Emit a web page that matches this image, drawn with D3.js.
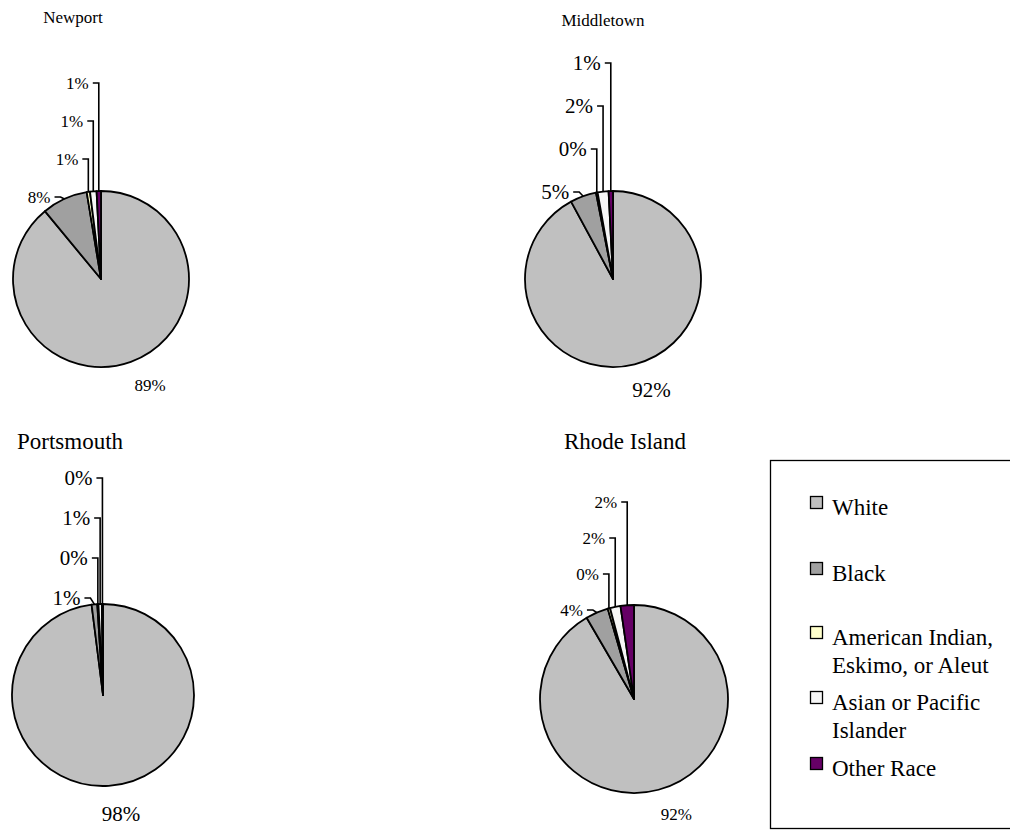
<!DOCTYPE html>
<html>
<head>
<meta charset="utf-8">
<script src="https://cdn.jsdelivr.net/npm/d3@7"></script>
<style>
  body { margin: 0; background: #fff; }
  svg { display: block; }
</style>
</head>
<body>
<svg id="chart" width="1010" height="832" font-family="'Liberation Serif', 'Times New Roman', 'DejaVu Serif', serif"></svg>
<script>
// Racial composition (percent of population), slices drawn clockwise from 12 o'clock
const categories = ["White", "Black", "American Indian, Eskimo, or Aleut", "Asian or Pacific Islander", "Other Race"];
const legendLines = [["White"], ["Black"], ["American Indian,", "Eskimo, or Aleut"], ["Asian or Pacific", "Islander"], ["Other Race"]];
const places = ["Newport", "Middletown", "Portsmouth", "Rhode Island"];
const newport     = [89.0, 8.4, 0.6, 1.2, 0.8];
const middletown  = [92.1, 4.8, 0.3, 2.0, 0.8];
const portsmouth  = [98.0, 1.0, 0.2, 0.6, 0.2];
const rhodeIsland = [91.6, 3.9, 0.4, 1.8, 2.3];
const seriesValues = [newport, middletown, portsmouth, rhodeIsland];
const colors = ["#c0c0c0", "#a0a0a0", "#ffffcc", "#f6f6f6", "#660066"];

// Placement of each pie panel
const panels = [
  { cx: 101, cy: 279, r: 88, tx: 73,  ty: 23,  tSize: 17, lSize: 17, base: 197, step: 38 },
  { cx: 613, cy: 279, r: 88, tx: 603, ty: 26,  tSize: 17, lSize: 21, base: 192, step: 43 },
  { cx: 103, cy: 695, r: 91, tx: 70,  ty: 449, tSize: 23, lSize: 21, base: 598, step: 40 },
  { cx: 634, cy: 699, r: 94, tx: 625, ty: 449, tSize: 23, lSize: 17, base: 610, step: 36 }
];

const svg = d3.select("#chart");
const fmt = v => d3.format(".0f")(v) + "%";
const pie = d3.pie().sort(null).value(d => d);
const color = d3.scaleOrdinal().domain(categories).range(colors);

panels.forEach((p, pi) => {
  const vals = seriesValues[pi];
  const arcs = pie(vals);
  const arc = d3.arc().innerRadius(0).outerRadius(p.r);
  const g = svg.append("g");

  g.append("text")
    .attr("x", p.tx).attr("y", p.ty)
    .attr("text-anchor", "middle")
    .attr("font-size", p.tSize)
    .text(places[pi]);

  const pg = g.append("g").attr("transform", `translate(${p.cx},${p.cy})`);
  pg.selectAll("path")
    .data(arcs)
    .join("path")
    .attr("d", arc)
    .attr("fill", (d, i) => color(categories[i]))
    .attr("stroke", "#000")
    .attr("stroke-width", 1.8)
    .attr("stroke-linejoin", "round");

  arcs.forEach((a, i) => {
    const mid = (a.startAngle + a.endAngle) / 2;
    const px = p.cx + p.r * Math.sin(mid);
    const py = p.cy - p.r * Math.cos(mid);
    if (i === 0) {
      // large slice: label below-right of the pie
      const ang = mid - 5 * Math.PI / 180;
      const d = p.r + 29;
      g.append("text")
        .attr("x", p.cx + d * Math.sin(ang))
        .attr("y", p.cy - d * Math.cos(ang))
        .attr("dy", "0.35em")
        .attr("text-anchor", "middle")
        .attr("font-size", p.lSize)
        .text(fmt(vals[i]));
      return;
    }
    // small slices: stacked labels with leader lines
    const ly = p.base - (i - 1) * p.step;
    const path = i === 1
      ? `M${px - 10},${ly}H${px - 4}L${px},${py}`
      : `M${px - 6},${ly}H${px}V${py}`;
    g.append("path")
      .attr("d", path)
      .attr("fill", "none")
      .attr("stroke", "#000")
      .attr("stroke-width", 1.6);
    g.append("text")
      .attr("x", i === 1 ? px - 14 : px - 10)
      .attr("y", ly)
      .attr("dy", "0.35em")
      .attr("text-anchor", "end")
      .attr("font-size", p.lSize)
      .text(fmt(vals[i]));
  });
});

// Legend
const lg = svg.append("g");
lg.append("rect")
  .attr("x", 770.5).attr("y", 460.5)
  .attr("width", 260).attr("height", 368)
  .attr("fill", "#fff").attr("stroke", "#000").attr("stroke-width", 1.3);
const legendY = [507, 573, 637, 702, 768];
const lineGap = 28;
categories.forEach((c, i) => {
  lg.append("rect")
    .attr("x", 810.5).attr("y", legendY[i] - 10.5)
    .attr("width", 12).attr("height", 12)
    .attr("fill", color(c)).attr("stroke", "#000").attr("stroke-width", 1.3);
  legendLines[i].forEach((line, j) => {
    lg.append("text")
      .attr("x", 832).attr("y", legendY[i] + j * lineGap)
      .attr("dy", "0.35em")
      .attr("font-size", 23)
      .text(line);
  });
});
</script>
</body>
</html>
